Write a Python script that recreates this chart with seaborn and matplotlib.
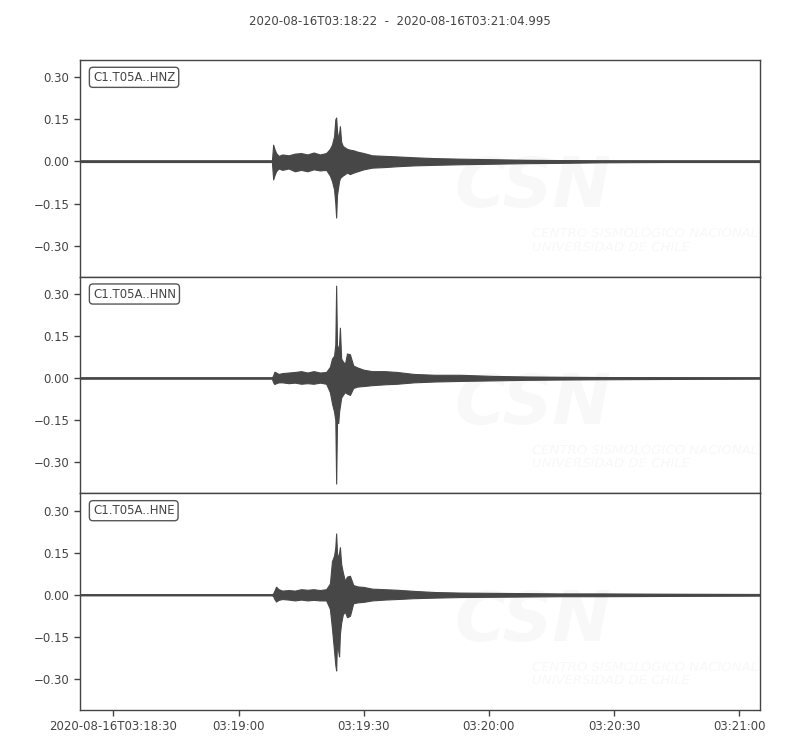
import matplotlib
matplotlib.use("Agg")
import matplotlib.pyplot as plt
import matplotlib.ticker as mticker
import numpy as np
import pandas as pd
import seaborn as sns

# seconds after 2020-08-16T03:18:22
t = [0, 46.0, 46.3, 46.6, 47.0, 47.6, 48.5, 50, 51.5, 53, 54.5, 56, 57.5, 59,
     59.9, 60.4, 60.9, 61.2, 61.4, 61.6, 61.9, 62.1, 62.3, 62.6, 63.0, 63.5,
     64.0, 64.7, 65.5, 66.5, 68, 70, 73, 76, 80, 85, 91, 99, 107, 115, 125,
     140, 163]

# envelope (upper / lower), in the trace's units
hnz_up = [0.002, 0.002, 0.060, 0.045, 0.030, 0.020, 0.025, 0.022, 0.028, 0.030,
          0.025, 0.032, 0.025, 0.030, 0.045, 0.060, 0.090, 0.150, 0.157, 0.110,
          0.080, 0.100, 0.126, 0.070, 0.055, 0.050, 0.045, 0.042, 0.040, 0.035,
          0.030, 0.022, 0.020, 0.018, 0.015, 0.012, 0.010, 0.008, 0.006, 0.005,
          0.003, 0.002, 0.002]
hnz_lo = [-0.002, -0.002, -0.064, -0.050, -0.035, -0.025, -0.030, -0.025, -0.035,
          -0.030, -0.035, -0.028, -0.032, -0.030, -0.050, -0.070, -0.100, -0.150,
          -0.200, -0.120, -0.090, -0.070, -0.060, -0.055, -0.050, -0.045, -0.040,
          -0.045, -0.040, -0.035, -0.028, -0.022, -0.020, -0.017, -0.014, -0.012,
          -0.010, -0.008, -0.006, -0.005, -0.003, -0.002, -0.002]

hnn_up = [0.002, 0.002, 0.010, 0.023, 0.020, 0.015, 0.018, 0.020, 0.022, 0.025,
          0.020, 0.025, 0.020, 0.022, 0.040, 0.070, 0.080, 0.120, 0.330, 0.120,
          0.100, 0.120, 0.180, 0.070, 0.060, 0.050, 0.088, 0.085, 0.045, 0.038,
          0.030, 0.025, 0.025, 0.022, 0.015, 0.012, 0.012, 0.008, 0.006, 0.005,
          0.004, 0.003, 0.002]
hnn_lo = [-0.002, -0.002, -0.015, -0.021, -0.018, -0.015, -0.015, -0.018, -0.016,
          -0.020, -0.018, -0.020, -0.016, -0.020, -0.050, -0.090, -0.120, -0.150,
          -0.376, -0.160, -0.160, -0.120, -0.100, -0.070, -0.060, -0.050, -0.055,
          -0.060, -0.035, -0.030, -0.028, -0.025, -0.022, -0.020, -0.015, -0.012,
          -0.010, -0.008, -0.006, -0.005, -0.004, -0.003, -0.002]

hne_up = [0.002, 0.002, 0.005, 0.015, 0.029, 0.020, 0.015, 0.017, 0.015, 0.020,
          0.018, 0.020, 0.017, 0.020, 0.040, 0.120, 0.140, 0.170, 0.219, 0.150,
          0.130, 0.150, 0.170, 0.110, 0.080, 0.050, 0.065, 0.068, 0.035, 0.030,
          0.028, 0.022, 0.020, 0.018, 0.014, 0.010, 0.008, 0.007, 0.006, 0.005,
          0.005, 0.004, 0.003]
hne_lo = [-0.002, -0.002, -0.005, -0.015, -0.024, -0.018, -0.015, -0.017, -0.020,
          -0.017, -0.020, -0.018, -0.020, -0.020, -0.050, -0.120, -0.200, -0.250,
          -0.270, -0.170, -0.200, -0.220, -0.140, -0.100, -0.070, -0.060, -0.080,
          -0.075, -0.030, -0.027, -0.025, -0.020, -0.017, -0.015, -0.012, -0.010,
          -0.008, -0.007, -0.006, -0.005, -0.005, -0.004, -0.003]

channels = ["C1.T05A..HNZ", "C1.T05A..HNN", "C1.T05A..HNE"]
uppers = [hnz_up, hnn_up, hne_up]
lowers = [hnz_lo, hnn_lo, hne_lo]

tick_secs = [8, 38, 68, 98, 128, 158]
tick_labels = ["2020-08-16T03:18:30", "03:19:00", "03:19:30", "03:20:00",
               "03:20:30", "03:21:00"]
y_ticks = [-0.30, -0.15, 0.0, 0.15, 0.30]

title = "2020-08-16T03:18:22  -  2020-08-16T03:21:04.995"

sns.set_theme(style="ticks")
plt.rcParams["font.family"] = ["DejaVu Sans"]
grey = "#444444"
plt.rcParams.update({
    "text.color": grey, "axes.edgecolor": grey, "axes.labelcolor": grey,
    "xtick.color": grey, "ytick.color": grey, "axes.linewidth": 1.0,
    "xtick.labelsize": 8.5, "ytick.labelsize": 8.5,
})

fig, axes = plt.subplots(3, 1, figsize=(8, 7.5), dpi=100, sharex=True)
fig.subplots_adjust(left=0.1, right=0.95, top=0.92, bottom=0.0533, hspace=0)

wave = "#474747"
for ax, name, up, lo in zip(axes, channels, uppers, lowers):
    df = pd.DataFrame({"t": t, "up": up, "lo": lo})
    # very faint CSN watermark
    ax.text(0.55, 0.32, "CSN", transform=ax.transAxes, fontsize=50,
            fontweight="bold", style="italic", color="#f8f8f8", zorder=0,
            clip_on=True)
    ax.text(0.665, 0.12, "CENTRO SISMOLÓGICO NACIONAL\nUNIVERSIDAD DE CHILE",
            transform=ax.transAxes, fontsize=9.5, style="italic",
            color="#f8f8f8", zorder=0, linespacing=1.05, clip_on=True)
    ax.fill_between(df["t"], df["lo"], df["up"], color=wave, lw=0.8,
                    edgecolor=wave, zorder=2)
    sns.lineplot(data=df, x="t", y=np.zeros(len(df)), ax=ax, color=wave,
                 lw=1.2, zorder=3)
    ax.set_xlim(0, 162.995)
    ax.set_ylim(-0.411, 0.362)
    ax.set_yticks(y_ticks)
    ax.yaxis.set_major_formatter(mticker.FuncFormatter(
        lambda v, p: f"{v:.2f}".replace("-", "\u2212")))
    ax.set_xlabel("")
    ax.set_ylabel("")
    ax.tick_params(axis="y", length=4, width=1)
    ax.text(0.019, 0.95, name, transform=ax.transAxes, ha="left", va="top",
            fontsize=8.5, color=grey, zorder=5,
            bbox=dict(boxstyle="round,pad=0.3", fc="white", ec="#555555", lw=1))
    for s in ax.spines.values():
        s.set_visible(True)

for ax in axes[:-1]:
    ax.tick_params(axis="x", length=0, labelbottom=False)

axes[-1].set_xticks(tick_secs)
axes[-1].set_xticklabels(tick_labels)
axes[-1].tick_params(axis="x", length=4, width=1)

fig.suptitle(title, y=0.98, fontsize=8.5, color=grey)

plt.savefig("out.png", dpi=100)
